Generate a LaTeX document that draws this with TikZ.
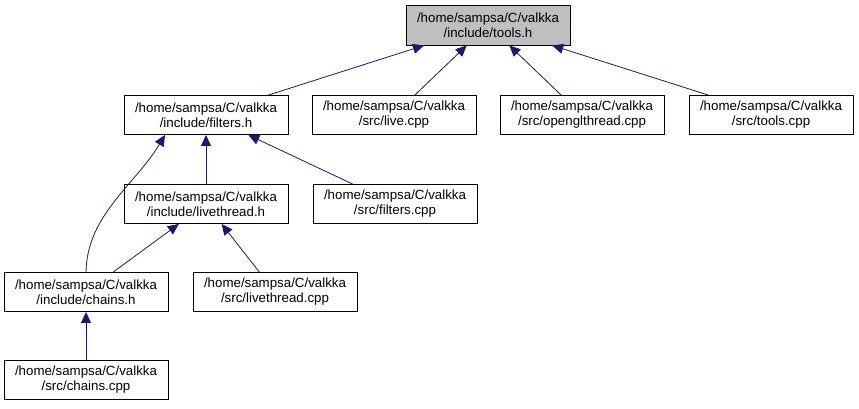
\documentclass[tikz,border=0pt]{standalone}
\usepackage{fontspec}
\setmainfont{Liberation Sans}
\usepackage{tikz}
\usetikzlibrary{arrows.meta,calc}
\definecolor{edgeblue}{RGB}{25,25,112}

\begin{document}
\begin{tikzpicture}[x=1pt,y=-1pt,
  file/.style={draw=black,line width=0.9pt,minimum width=164pt,minimum height=39pt,
    inner sep=0pt,align=center,font=\fontsize{13.3}{15}\selectfont},
  dep/.style={draw=edgeblue,line width=0.8pt,-{Triangle[length=11pt,width=10pt]}}]
\useasboundingbox (0,0) rectangle (859,409);

\node[file,fill=gray!50,minimum height=40pt] (toolsh) at (488,25) {/home/sampsa/C/valkka\\/include/tools.h};
\node[file] (filtersh) at (206,115) {/home/sampsa/C/valkka\\/include/filters.h};
\node[file] (livecpp) at (394,115) {/home/sampsa/C/valkka\\/src/live.cpp};
\node[file] (openglcpp) at (582,115) {/home/sampsa/C/valkka\\/src/openglthread.cpp};
\node[file] (toolscpp) at (771,115) {/home/sampsa/C/valkka\\/src/tools.cpp};
\node[file] (livethreadh) at (206,204) {/home/sampsa/C/valkka\\/include/livethread.h};
\node[file] (filterscpp) at (395,204) {/home/sampsa/C/valkka\\/src/filters.cpp};
\node[file] (chainsh) at (86,292) {/home/sampsa/C/valkka\\/include/chains.h};
\node[file] (livethreadcpp) at (275,292) {/home/sampsa/C/valkka\\/src/livethread.cpp};
\node[file] (chainscpp) at (86,380) {/home/sampsa/C/valkka\\/src/chains.cpp};

\draw[dep] (filtersh) -- (toolsh);
\draw[dep] (livecpp) -- (toolsh);
\draw[dep] (openglcpp) -- (toolsh);
\draw[dep] (toolscpp) -- (toolsh);
\draw[dep] (livethreadh) -- (filtersh);
\draw[dep] (filterscpp) -- (filtersh);
\draw[dep] (chainsh.north) .. controls (87,215) and (135,185) .. ($(filtersh.south)+(-41,0)$);
\draw[dep] (chainsh) -- (livethreadh);
\draw[dep] (livethreadcpp) -- (livethreadh);
\draw[dep] (chainscpp) -- (chainsh);
\end{tikzpicture}
\end{document}
